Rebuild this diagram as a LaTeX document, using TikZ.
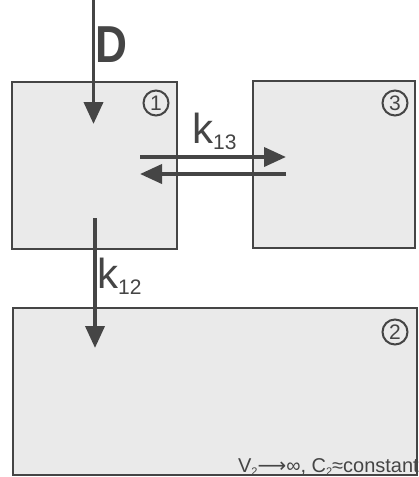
\documentclass[tikz,border=0pt]{standalone}
\usepackage{fontspec}
\setmainfont{Liberation Sans}
\newfontfamily\arrowfont{DejaVu Sans}
\usetikzlibrary{positioning,arrows.meta}
\definecolor{boxfill}{HTML}{EAEAEA}
\definecolor{inkgrey}{HTML}{454545}
\newcommand{\rate}[1]{k\raisebox{-6pt}{\fontsize{21}{21}\selectfont #1}}
\newcommand{\tinysub}[1]{\raisebox{-3pt}{\fontsize{11}{11}\selectfont #1}}
\tikzset{
  comp/.style={draw=inkgrey, line width=1.5pt, fill=boxfill, inner sep=0pt},
  flow/.style={draw=inkgrey, line width=3.8pt, -{Triangle[length=22pt,width=19pt]}},
  num/.style={circle, draw=inkgrey, line width=2pt, minimum size=25pt, inner sep=0pt, text=inkgrey, font=\fontsize{21}{21}\selectfont},
  lbl/.style={inner sep=0pt, text=inkgrey}
}
\begin{document}
\begin{tikzpicture}[x=1pt, y=-1pt]
	\useasboundingbox (0,0) rectangle (419,477);
	
	% Compartments
	\node[comp, minimum width=165pt, minimum height=167pt] (comp1) at (94.5,165.5) {};
	\node[comp, minimum width=162pt, minimum height=167pt] (comp3) at (334,164.5) {};
	\node[comp, minimum width=404pt, minimum height=167pt] (comp2) at (215,391.5) {};
	
	% Numbers
	\node[num] (n1) at (156,103) {1};
	\node[num] (n3) at (395,103) {3};
	\node[num] (n2) at (395,332) {2};
	
	% Arrow ends
	\coordinate (dtop) at (93.5,0);
	\coordinate (dtip) at (93.5,124);
	\coordinate (out13) at (140,157);
	\coordinate (in13) at (286,157);
	\coordinate (out31) at (286,174);
	\coordinate (in31) at (140,174);
	\coordinate (out12) at (95,218);
	\coordinate (in12) at (95,348);
	
	% Arrows
	\draw[flow] (dtop) -- (dtip);
	\draw[flow] (out13) -- (in13);
	\draw[flow] (out31) -- (in31);
	\draw[flow] (out12) -- (in12);
	
	% Labels
	\node[lbl, anchor=base west, font=\fontsize{52}{52}\selectfont\bfseries] (dose) at (95,62) {\scalebox{0.85}[1]{D}};
	\node[lbl, anchor=base west, font=\fontsize{42}{42}\selectfont] (k13) at (192,143) {\rate{13}};
	\node[lbl, anchor=base west, font=\fontsize{42}{42}\selectfont] (k12) at (97,288) {\rate{12}};
	\node[lbl, anchor=base east, font=\fontsize{20}{20}\selectfont] (limit) at (419,472) {V\tinysub{2}{\arrowfont ⟶}∞, C\tinysub{2}≈constant};
	
\end{tikzpicture}
\end{document}
